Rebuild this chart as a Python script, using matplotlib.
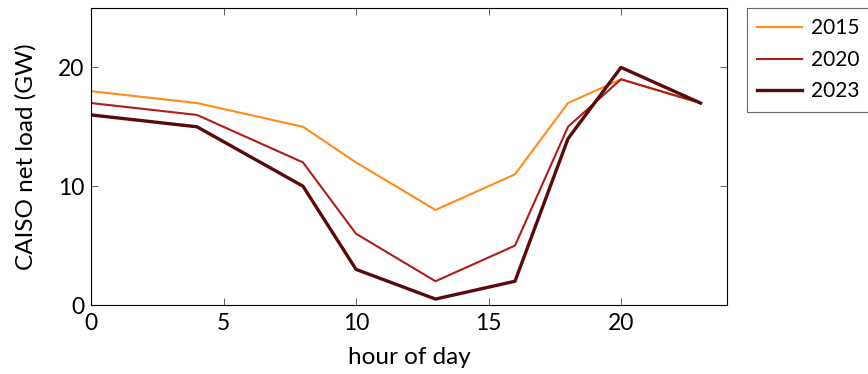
import matplotlib
matplotlib.use("Agg")
import matplotlib.pyplot as plt

plt.rcParams['font.family'] = ['Lato', 'DejaVu Sans']

hours = [0, 4, 8, 10, 13, 16, 18, 20, 23]
load_2015 = [18, 17, 15, 12, 8, 11, 17, 19, 17]
load_2020 = [17, 16, 12, 6, 2, 5, 15, 19, 17]
load_2023 = [16, 15, 10, 3, 0.5, 2, 14, 20, 17]
labels = ['2015', '2020', '2023']
colors = ['#ff8c1a', '#b01c1c', '#5a0a0a']
widths = [1.5, 1.5, 2.4]

fig = plt.figure(figsize=(8.68, 3.74), dpi=100)
ax = fig.add_axes([91/868, 1-305/374, (727-91)/868, (305-8)/374])

for ys, lab, c, w in zip([load_2015, load_2020, load_2023], labels, colors, widths):
    ax.plot(hours, ys, color=c, lw=w, label=lab)

fs = 16.5
ax.set_xlim(0, 24)
ax.set_ylim(0, 25)
ax.set_xticks([0, 5, 10, 15, 20])
ax.set_yticks([0, 10, 20])
ax.tick_params(direction='in', top=True, right=True, labelsize=fs, length=5, width=0.6, color='#444444')
ax.tick_params(axis='x', pad=6)
ax.tick_params(axis='y', pad=5)
for s in ax.spines.values():
    s.set_linewidth(0.8)
ax.set_xlabel('hour of day', fontsize=17.5, labelpad=9)
ax.set_ylabel('CAISO net load (GW)', fontsize=17.5, labelpad=15)

leg = ax.legend(loc='upper left', bbox_to_anchor=(747/868, 1-8/374), bbox_transform=fig.transFigure,
                fontsize=15, frameon=True, fancybox=False, edgecolor='#444444',
                handlelength=2.15, handletextpad=0.4, borderaxespad=0, labelspacing=0.55, borderpad=0.5)
leg.get_frame().set_linewidth(0.8)

fig.savefig('out.png', dpi=100)
